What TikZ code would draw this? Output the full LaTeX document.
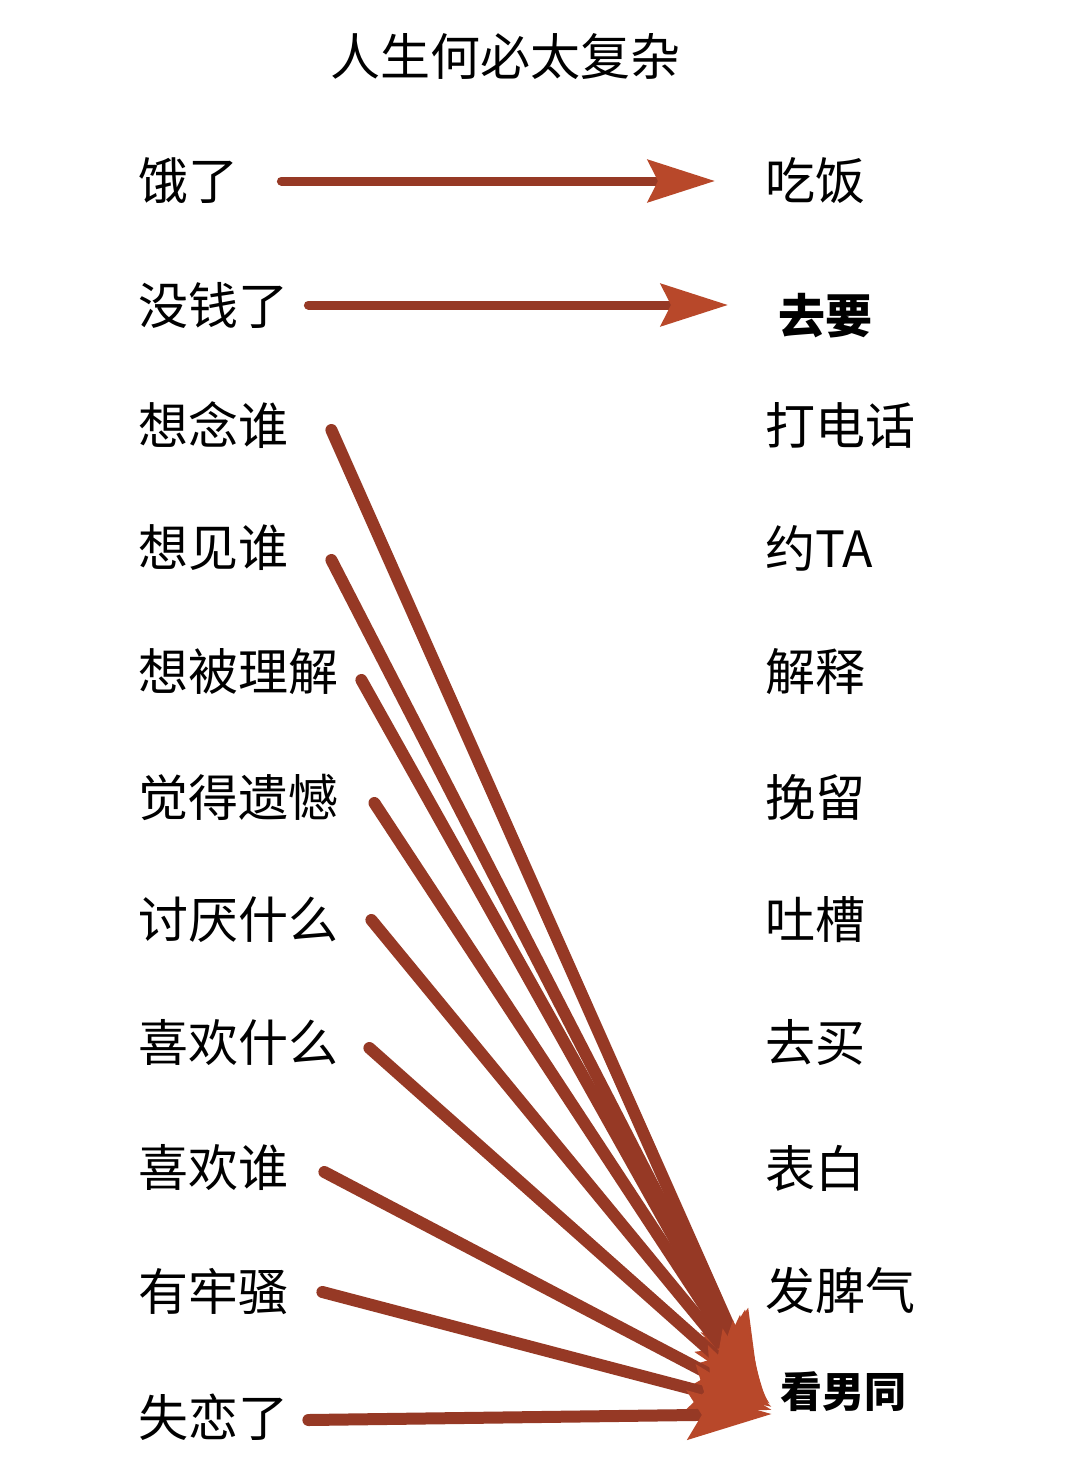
\documentclass[tikz,border=0pt]{standalone}
\usepackage{fontspec}
\newfontfamily\cjk{Noto Sans CJK SC}
\usetikzlibrary{arrows.meta,calc}

\definecolor{shaftred}{RGB}{150,57,37}
\definecolor{headred}{RGB}{184,72,42}

\tikzset{
  lbl/.style={anchor=west,inner sep=0pt,font=\cjk\fontsize{50}{50}\selectfont},
  boldlbl/.style={lbl,font=\cjk\bfseries\fontsize{47}{47}\selectfont},
  longarrow/.style={line width=9pt,line cap=round,shaftred,-{Stealth[length=67pt,width=42pt,inset=10pt,color=headred]}},
  fanarrow/.style={line width=12pt,line cap=round,shaftred,-{Stealth[length=84pt,width=48pt,inset=14pt,color=headred]}}
}

\begin{document}
\begin{tikzpicture}[x=1pt,y=-1pt]
    \fill[white] (0,0) rectangle (1080,1457);
    \useasboundingbox (0,0) rectangle (1080,1457);

    \node[inner sep=0pt,font=\cjk\fontsize{50}{50}\selectfont] (title) at (505,57) {人生何必太复杂};

    % left column
    \node[lbl] (hungry) at (138,181) {饿了};
    \node[lbl] (broke) at (138,305) {没钱了};
    \node[lbl] (miss) at (138,425) {想念谁};
    \node[lbl] (see) at (138,548) {想见谁};
    \node[lbl] (understood) at (138,672) {想被理解};
    \node[lbl] (regret) at (138,797) {觉得遗憾};
    \node[lbl] (hate) at (138,920) {讨厌什么};
    \node[lbl] (likewhat) at (138,1043) {喜欢什么};
    \node[lbl] (likewho) at (138,1168) {喜欢谁};
    \node[lbl] (grumble) at (138,1292) {有牢骚};
    \node[lbl] (heartbreak) at (138,1417) {失恋了};

    % right column
    \node[lbl] (eat) at (765,181) {吃饭};
    \node[boldlbl] (ask) at (778,316) {去要};
    \node[lbl] (call) at (765,425) {打电话};
    \node[lbl] (date) at (765,548) {约TA};
    \node[lbl] (explain) at (765,672) {解释};
    \node[lbl] (keep) at (765,797) {挽留};
    \node[lbl] (rant) at (765,920) {吐槽};
    \node[lbl] (buy) at (765,1043) {去买};
    \node[lbl] (confess) at (765,1168) {表白};
    \node[lbl] (temper) at (765,1290) {发脾气};
    \node[boldlbl,font=\cjk\bfseries\fontsize{42}{42}\selectfont] (watch) at (780,1392) {看男同};

    \coordinate (tip) at ($(watch.west)+(-8,0)$);

    % straight answers
    \draw[longarrow,shorten <=43pt,shorten >=50pt] (hungry) -- (eat);
    \draw[longarrow,shorten <=20pt,shorten >=50pt] (broke.east) -- (broke.east -| ask.west);

    % everything else ends up here
    \draw[fanarrow] ($(miss.east)+(43,5)$) -- ($(tip)+(-12,4)$);
    \draw[fanarrow] ($(see.east)+(43,12)$) -- ($(tip)+(-10,5)$);
    \draw[fanarrow] ($(understood.east)+(23,8)$) -- ($(tip)+(-8,7)$);
    \draw[fanarrow] ($(regret.east)+(36,6)$) -- ($(tip)+(-6,8)$);
    \draw[fanarrow] ($(hate.east)+(33,0)$) -- ($(tip)+(-4,10)$);
    \draw[fanarrow] ($(likewhat.east)+(31,5)$) -- ($(tip)+(-2,12)$);
    \draw[fanarrow] ($(likewho.east)+(36,4)$) -- ($(tip)+(0,15)$);
    \draw[fanarrow] ($(grumble.east)+(34,0)$) -- ($(tip)+(0,18)$);
    \draw[fanarrow] ($(heartbreak.east)+(20,3)$) -- ($(tip)+(0,22)$);
\end{tikzpicture}
\end{document}
